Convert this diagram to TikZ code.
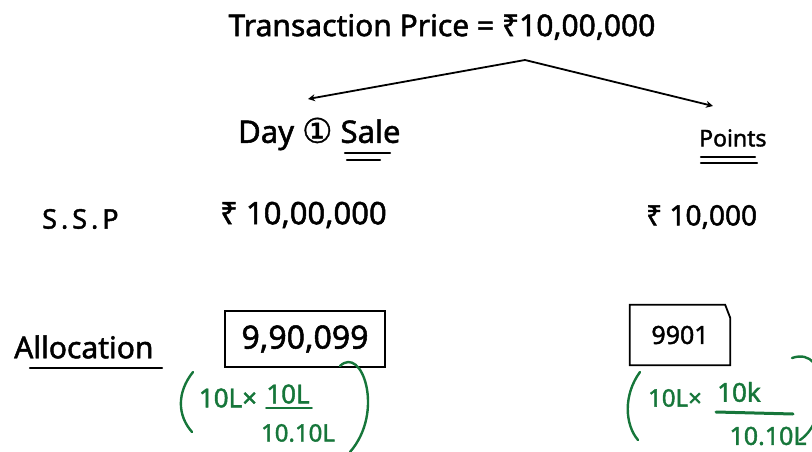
\documentclass[tikz,border=0pt]{standalone}
\usepackage{fontspec}
\setmainfont{Noto Sans}[FakeBold=1.6]
\newfontfamily\symfont{DejaVu Sans}[FakeBold=1.2]
\usetikzlibrary{arrows.meta}
\definecolor{ink}{RGB}{0,0,0}
\definecolor{pen}{RGB}{22,118,58}
\newcommand{\fs}[1]{\fontsize{#1}{#1}\selectfont}
\tikzset{
  hand/.style={text=ink, inner sep=0pt},
  greentext/.style={text=pen, inner sep=0pt},
  conn/.style={draw=ink, line width=1.8pt, -{Stealth[length=7pt,width=7pt]}},
  uline/.style={draw=ink, line width=2.4pt, line cap=round},
  gline/.style={draw=pen, line width=2.4pt, line cap=round},
  boxline/.style={draw=ink, line width=1.8pt},
}
\begin{document}
\begin{tikzpicture}[x=1pt,y=-1pt]
\useasboundingbox (0,0) rectangle (812,452);
% title
\node[hand, font=\fs{30}] (title) at (442,27) {Transaction Price = ₹10,00,000};
\coordinate (apex) at (525,60);
\coordinate (lefttip) at (308,99);
\coordinate (righttip) at (713,106);
\draw[conn] (apex) -- (lefttip);
\draw[conn] (apex) -- (righttip);
% headings
\node[hand, font=\fs{31}, anchor=west] (day) at (238,134) {Day {\symfont\fs{34}①} Sale};
\node[hand, font=\fs{23}, anchor=west] (points) at (699,138) {Points};
\draw[uline] (345,153) -- (390,153);
\draw[uline] (347,160) -- (380,160);
\draw[uline] (701,157) -- (755,157);
\draw[uline] (701,163) -- (757,163);
% SSP row
\node[hand, font=\fs{27}, anchor=west] (ssp) at (42,219) {S\hspace{4pt}.\hspace{4pt}S\hspace{4pt}.\hspace{4pt}P};
\node[hand, font=\fs{31}, anchor=west] (ssp1) at (220,215) {₹ 10,00,000};
\node[hand, font=\fs{28}, anchor=west] (ssp2) at (646,217) {₹ 10,000};
% allocation
\node[hand, font=\fs{30}, anchor=west] (alloc) at (14,347) {Allocation};
\draw[uline] (30,368) -- (162,368);
\node[boxline, hand, minimum width=160pt, minimum height=56pt, font=\fs{32}] (b1) at (305,339) {9,90,099};
\node[hand, minimum width=100pt, minimum height=60pt, font=\fs{25}] (b2) at (680,335) {9901};
\draw[boxline] (b2.north west) -- ([xshift=-5pt]b2.north east) -- ([yshift=-13pt]b2.north east) -- (b2.south east) -- (b2.south west) -- cycle;
% green working, left
\draw[gline] (193,372) .. controls (177,392) and (177,415) .. (192,432);
\draw[gline] (340,366) .. controls (362,345) and (385,412) .. (350,452);
\node[greentext, font=\fs{26}] (l1) at (228,398) {10L×};
\node[greentext, font=\fs{26}] (l2) at (288,394) {10L};
\draw[gline, line width=1.8pt] (266,408) -- (312,408);
\node[greentext, font=\fs{24}] (l3) at (298,433) {10.10L};
% green working, right
\draw[gline] (640,372) .. controls (623,395) and (625,425) .. (638,440);
\draw[gline] (792,358) .. controls (830,345) and (830,420) .. (800,440);
\node[greentext, font=\fs{24}] (r1) at (675,398) {10L×};
\node[greentext, font=\fs{26}] (r2) at (739,392) {10k};
\draw[gline, line width=3pt] (716,412) -- (793,414);
\node[greentext, font=\fs{25}] (r3) at (768,436) {10.10L};
\end{tikzpicture}
\end{document}
